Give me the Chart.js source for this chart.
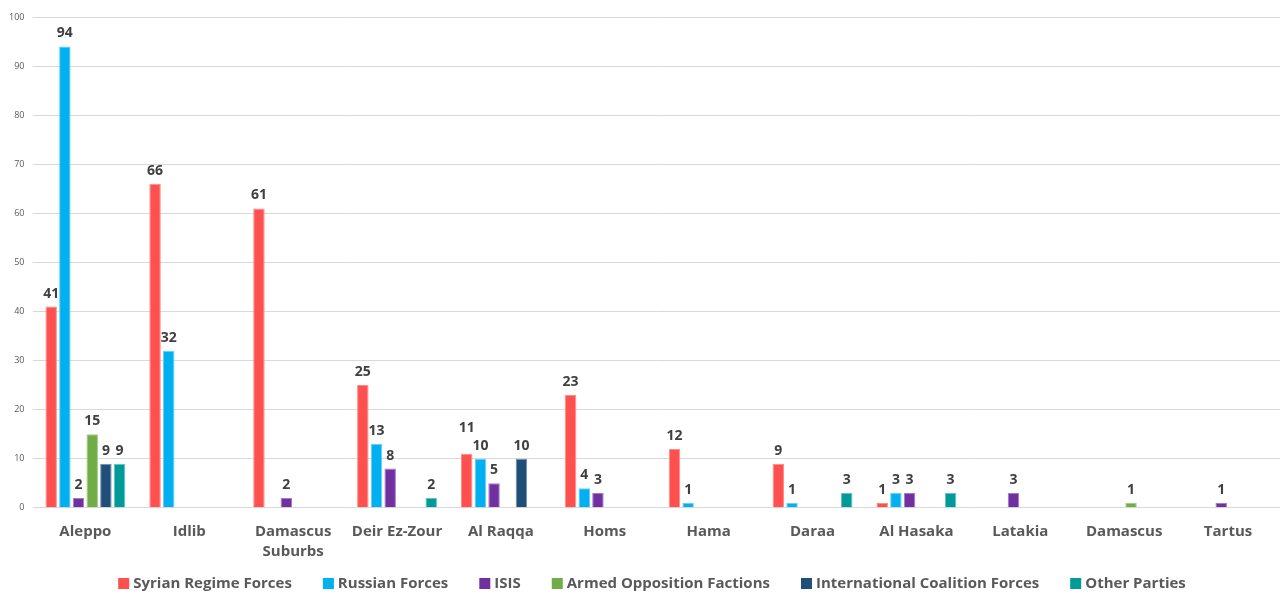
<!DOCTYPE html>
<html>
<head>
<meta charset="utf-8">
<script src="https://cdn.jsdelivr.net/npm/chart.js@4"></script>
<style>
  html, body { margin: 0; padding: 0; background: #fff; }
  #wrap { width: 1282px; height: 593px; }
</style>
</head>
<body>
<div id="wrap"><canvas id="chart" width="1282" height="593"></canvas></div>
<script>
const regions = ['Aleppo', 'Idlib', ['Damascus', 'Suburbs'], 'Deir Ez-Zour', 'Al Raqqa', 'Homs',
  'Hama', 'Daraa', 'Al Hasaka', 'Latakia', 'Damascus', 'Tartus'];

const seriesNames = ['Syrian Regime Forces', 'Russian Forces', 'ISIS',
  'Armed Opposition Factions', 'International Coalition Forces', 'Other Parties'];

// null = no bar / no label
const regimeForces    = [41, 66, 61, 25, 11, 23, 12, 9, 1, null, null, null];
const russianForces   = [94, 32, null, 13, 10, 4, 1, 1, 3, null, null, null];
const isis            = [2, null, 2, 8, 5, 3, null, null, 3, 3, null, 1];
const armedOpposition = [15, null, null, null, null, null, null, null, null, null, 1, null];
const coalition       = [9, null, null, null, 10, null, null, null, null, null, null, null];
const otherParties    = [9, null, null, 2, null, null, null, 3, 3, null, null, null];

const yTicks = { min: 0, max: 100, step: 10 };

const allSeries = [regimeForces, russianForces, isis, armedOpposition, coalition, otherParties];
const colors = ['#FF5050', '#00B0F0', '#7030A0', '#70AD47', '#1F4E79', '#009A99'];
const borders = ['#FF8A8A', '#66D0F6', '#A57CC6', '#A2CB86', '#6F8FAE', '#66C2C1'];

const FONT = "'Open Sans', 'DejaVu Sans', sans-serif";

// draws the value above each bar; a label that would collide with its
// right-hand neighbour is lifted above it
const valueLabels = {
  id: 'valueLabels',
  afterDatasetsDraw(chart) {
    const ctx = chart.ctx;
    ctx.save();
    ctx.font = 'bold 14px ' + FONT;
    ctx.fillStyle = '#404040';
    ctx.textAlign = 'center';
    ctx.textBaseline = 'alphabetic';
    const n = chart.data.labels.length;
    for (let j = 0; j < n; j++) {
      const items = [];
      chart.data.datasets.forEach((ds, i) => {
        const v = ds.data[j];
        if (v == null) return;
        const bar = chart.getDatasetMeta(i).data[j];
        const text = String(v);
        items.push({ text, x: bar.x, y: bar.y - 9, w: ctx.measureText(text).width });
      });
      for (let k = items.length - 2; k >= 0; k--) {
        const a = items[k], b = items[k + 1];
        const overlapX = (a.x + a.w / 2) > (b.x - b.w / 2) - 2;
        if (overlapX && Math.abs(a.y - b.y) < 16 && a.y <= b.y) {
          a.y = b.y - 18;
        }
      }
      items.forEach(it => ctx.fillText(it.text, it.x, it.y));
    }
    ctx.restore();
  }
};

// legend along the bottom, drawn by hand so the spacing can follow the original
const bottomLegend = {
  id: 'bottomLegend',
  afterDraw(chart) {
    const ctx = chart.ctx;
    const box = 11, gapText = 4, gapItem = 31;
    const y = 584;
    ctx.save();
    ctx.font = 'bold 15px ' + FONT;
    ctx.textBaseline = 'middle';
    ctx.textAlign = 'left';
    const widths = chart.data.datasets.map(ds => box + gapText + ctx.measureText(ds.label).width);
    const total = widths.reduce((a, b) => a + b, 0) + gapItem * (widths.length - 1);
    let x = 652 - total / 2;
    chart.data.datasets.forEach((ds, i) => {
      ctx.fillStyle = ds.backgroundColor;
      ctx.fillRect(x, y - 6, box, box);
      ctx.fillStyle = '#595959';
      ctx.fillText(ds.label, x + box + gapText, y);
      x += widths[i] + gapItem;
    });
    ctx.restore();
  }
};

new Chart(document.getElementById('chart'), {
  type: 'bar',
  data: {
    labels: regions,
    datasets: seriesNames.map((name, i) => ({
      label: name,
      data: allSeries[i],
      backgroundColor: colors[i],
      borderColor: borders[i],
      borderWidth: 1,
      barPercentage: 0.84,
      categoryPercentage: 0.79
    }))
  },
  options: {
    responsive: false,
    animation: false,
    layout: { padding: { top: 17, left: 0, right: 2, bottom: 25 } },
    scales: {
      x: {
        grid: { display: false },
        border: { display: false },
        ticks: {
          color: '#595959',
          font: { family: FONT, size: 15, weight: 'bold', lineHeight: 1.34 },
          padding: 6,
          maxRotation: 0,
          autoSkip: false
        }
      },
      y: {
        min: yTicks.min,
        max: yTicks.max,
        grid: { color: '#D9D9D9', lineWidth: 1, drawTicks: false },
        border: { display: false },
        ticks: {
          stepSize: yTicks.step,
          color: '#595959',
          font: { family: FONT, size: 9 },
          padding: 9
        }
      }
    },
    plugins: {
      legend: { display: false },
      tooltip: { enabled: false }
    }
  },
  plugins: [valueLabels, bottomLegend]
});
</script>
</body>
</html>
